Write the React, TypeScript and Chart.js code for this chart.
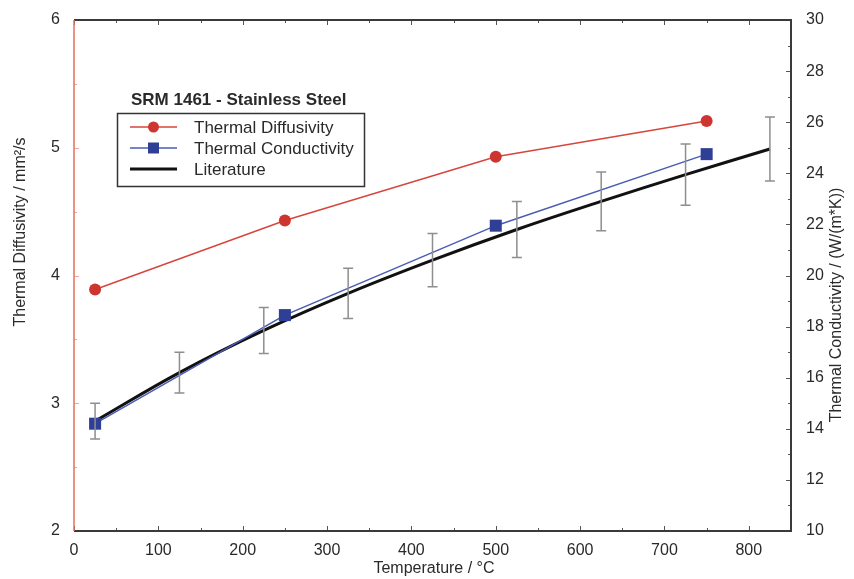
import React, { useEffect, useRef } from "react";
import { Chart, registerables } from "chart.js";

Chart.register(...registerables);

// ---- data ----
const diffTemps = [25, 250, 500, 750];
const diffValues = [3.89, 4.43, 4.93, 5.21]; // mm²/s (left axis)
const condTemps = [25, 250, 500, 750];
const condValues = [14.2, 18.45, 21.95, 24.75]; // W/(m*K) (right axis)
const litTemps = [25, 125, 225, 325, 425, 525, 625, 725, 825];
const litValues = [14.3, 16.2, 17.85, 19.3, 20.6, 21.8, 22.9, 23.95, 24.95];
const litErrors = [0.7, 0.8, 0.9, 0.98, 1.04, 1.1, 1.15, 1.2, 1.25];
const xTicks = [0, 100, 200, 300, 400, 500, 600, 700, 800];
const yLeftTicks = [2, 3, 4, 5, 6];
const yRightTicks = [10, 12, 14, 16, 18, 20, 22, 24, 26, 28, 30];
const legendTitle = "SRM 1461 - Stainless Steel";
const seriesNames = ["Thermal Diffusivity", "Thermal Conductivity", "Literature"];
const xTitle = "Temperature / °C";
const yLeftTitle = "Thermal Diffusivity / mm²/s";
const yRightTitle = "Thermal Conductivity / (W/(m*K))";

const FONT = "'Liberation Sans', Arial, sans-serif";
const RED = "#d6463c";
const RED_FILL = "#cf3530";
const BLUE = "#4a5bb5";
const BLUE_FILL = "#2f3f95";
const TEXT = "#2a2a2a";

const errorBarPlugin = {
  id: "errorBars",
  afterDatasetsDraw(chart: any) {
    const ctx = chart.ctx;
    const x = chart.scales.x;
    const y = chart.scales.y1;
    ctx.save();
    ctx.strokeStyle = "#8e8e8e";
    ctx.lineWidth = 1.5;
    litTemps.forEach((t, i) => {
      const px = x.getPixelForValue(t);
      const top = y.getPixelForValue(litValues[i] + litErrors[i]);
      const bot = y.getPixelForValue(litValues[i] - litErrors[i]);
      ctx.beginPath();
      ctx.moveTo(px, top);
      ctx.lineTo(px, bot);
      ctx.moveTo(px - 5, top);
      ctx.lineTo(px + 5, top);
      ctx.moveTo(px - 5, bot);
      ctx.lineTo(px + 5, bot);
      ctx.stroke();
    });
    ctx.restore();
  },
};

const framePlugin = {
  id: "frame",
  beforeDatasetsDraw(chart: any) {
    const ctx = chart.ctx;
    const { left, right, top, bottom } = chart.chartArea;
    const x = chart.scales.x;
    const y = chart.scales.y;
    const y1 = chart.scales.y1;
    ctx.save();
    ctx.lineWidth = 1;
    ctx.strokeStyle = "#555";
    for (let v = 0; v <= 850; v += 50) {
      const px = Math.round(x.getPixelForValue(v)) + 0.5;
      const len = v % 100 === 0 ? 5 : 3;
      ctx.beginPath();
      ctx.moveTo(px, top);
      ctx.lineTo(px, top + len);
      ctx.moveTo(px, bottom);
      ctx.lineTo(px, bottom - len);
      ctx.stroke();
    }
    for (let v = 10; v <= 30; v += 1) {
      const py = Math.round(y1.getPixelForValue(v)) + 0.5;
      const len = v % 2 === 0 ? 5 : 3;
      ctx.beginPath();
      ctx.moveTo(right, py);
      ctx.lineTo(right - len, py);
      ctx.stroke();
    }
    ctx.strokeStyle = "#eea89c";
    for (let v = 2; v <= 6; v += 0.5) {
      const py = Math.round(y.getPixelForValue(v)) + 0.5;
      const len = Number.isInteger(v) ? 5 : 3;
      ctx.beginPath();
      ctx.moveTo(left, py);
      ctx.lineTo(left + len, py);
      ctx.stroke();
    }
    ctx.lineWidth = 2;
    ctx.strokeStyle = "#3a3a3a";
    ctx.beginPath();
    ctx.moveTo(left, top);
    ctx.lineTo(right, top);
    ctx.lineTo(right, bottom);
    ctx.lineTo(left, bottom);
    ctx.stroke();
    ctx.strokeStyle = "#e0705f";
    ctx.lineWidth = 1.5;
    ctx.beginPath();
    ctx.moveTo(left, top);
    ctx.lineTo(left, bottom);
    ctx.stroke();
    ctx.restore();
  },
  afterDraw(chart: any) {
    const ctx = chart.ctx;
    ctx.save();
    ctx.fillStyle = TEXT;
    ctx.font = `16px ${FONT}`;
    ctx.textAlign = "center";
    ctx.textBaseline = "middle";
    ctx.fillText(xTitle, 434, 569);
    ctx.save();
    ctx.translate(21, 232);
    ctx.rotate(-Math.PI / 2);
    ctx.fillText(yLeftTitle, 0, 0);
    ctx.restore();
    ctx.save();
    ctx.translate(837, 305);
    ctx.rotate(-Math.PI / 2);
    ctx.fillText(yRightTitle, 0, 0);
    ctx.restore();

    ctx.font = `bold 17px ${FONT}`;
    ctx.textAlign = "left";
    ctx.fillText(legendTitle, 131, 100);
    ctx.lineWidth = 1.5;
    ctx.strokeStyle = "#333";
    ctx.strokeRect(117.5, 113.5, 247, 73);
    ctx.font = `17px ${FONT}`;
    const rows = [127, 148, 169];
    const x0 = 130, x1 = 177, xm = 153.5;
    ctx.strokeStyle = RED;
    ctx.lineWidth = 1.5;
    ctx.beginPath(); ctx.moveTo(x0, rows[0]); ctx.lineTo(x1, rows[0]); ctx.stroke();
    ctx.fillStyle = RED_FILL;
    ctx.beginPath(); ctx.arc(xm, rows[0], 5.5, 0, Math.PI * 2); ctx.fill();
    ctx.strokeStyle = BLUE;
    ctx.beginPath(); ctx.moveTo(x0, rows[1]); ctx.lineTo(x1, rows[1]); ctx.stroke();
    ctx.fillStyle = BLUE_FILL;
    ctx.fillRect(xm - 5.5, rows[1] - 5.5, 11, 11);
    ctx.strokeStyle = "#111";
    ctx.lineWidth = 3;
    ctx.beginPath(); ctx.moveTo(x0, rows[2]); ctx.lineTo(x1, rows[2]); ctx.stroke();
    ctx.fillStyle = TEXT;
    seriesNames.forEach((n, i) => ctx.fillText(n, 194, rows[i] + 1));
    ctx.restore();
  },
};

export default function App() {
  const ref = useRef<HTMLCanvasElement | null>(null);
  useEffect(() => {
    document.body.style.margin = "0";
    const canvas = ref.current;
    if (!canvas) return;
    const chart = new Chart(canvas, {
      type: "line",
      data: {
        datasets: [
          {
            label: seriesNames[2],
            data: litTemps.map((t, i) => ({ x: t, y: litValues[i] })),
            yAxisID: "y1",
            borderColor: "#111",
            borderWidth: 3,
            pointRadius: 0,
            tension: 0.4,
            order: 1,
          },
          {
            label: seriesNames[1],
            data: condTemps.map((t, i) => ({ x: t, y: condValues[i] })),
            yAxisID: "y1",
            borderColor: BLUE,
            borderWidth: 1.5,
            pointStyle: "rect",
            pointRadius: 8.5,
            pointBackgroundColor: BLUE_FILL,
            pointBorderColor: BLUE_FILL,
            pointBorderWidth: 0,
            order: 0,
          },
          {
            label: seriesNames[0],
            data: diffTemps.map((t, i) => ({ x: t, y: diffValues[i] })),
            yAxisID: "y",
            borderColor: RED,
            borderWidth: 1.5,
            pointStyle: "circle",
            pointRadius: 6,
            pointBackgroundColor: RED_FILL,
            pointBorderColor: RED_FILL,
            pointBorderWidth: 0,
            order: 0,
          },
        ],
      },
      options: {
        responsive: false,
        animation: false,
        layout: { padding: { top: 20, left: 0, right: 0, bottom: 0 } },
        plugins: { legend: { display: false }, tooltip: { enabled: false } },
        scales: {
          x: {
            type: "linear",
            min: 0,
            max: 850,
            afterBuildTicks: (s: any) => { s.ticks = xTicks.map((v) => ({ value: v })); },
            afterFit: (s: any) => { s.height = 48; },
            grid: { display: false },
            border: { display: false },
            ticks: { color: TEXT, font: { family: FONT, size: 16 }, padding: 2, maxRotation: 0 },
          },
          y: {
            type: "linear",
            position: "left",
            min: 2,
            max: 6,
            afterBuildTicks: (s: any) => { s.ticks = yLeftTicks.map((v) => ({ value: v })); },
            afterFit: (s: any) => { s.width = 74; },
            grid: { display: false },
            border: { display: false },
            ticks: { color: TEXT, font: { family: FONT, size: 16 }, padding: 6 },
          },
          y1: {
            type: "linear",
            position: "right",
            min: 10,
            max: 30,
            afterBuildTicks: (s: any) => { s.ticks = yRightTicks.map((v) => ({ value: v })); },
            afterFit: (s: any) => { s.width = 63; },
            grid: { display: false },
            border: { display: false },
            ticks: { color: TEXT, font: { family: FONT, size: 16 }, padding: 7 },
          },
        },
      },
      plugins: [framePlugin, errorBarPlugin],
    } as any);
    return () => chart.destroy();
  }, []);
  return (
    <div style={{ width: 854, height: 579, background: "#fff" }}>
      <canvas ref={ref} width={854} height={579} style={{ display: "block" }} />
    </div>
  );
}
